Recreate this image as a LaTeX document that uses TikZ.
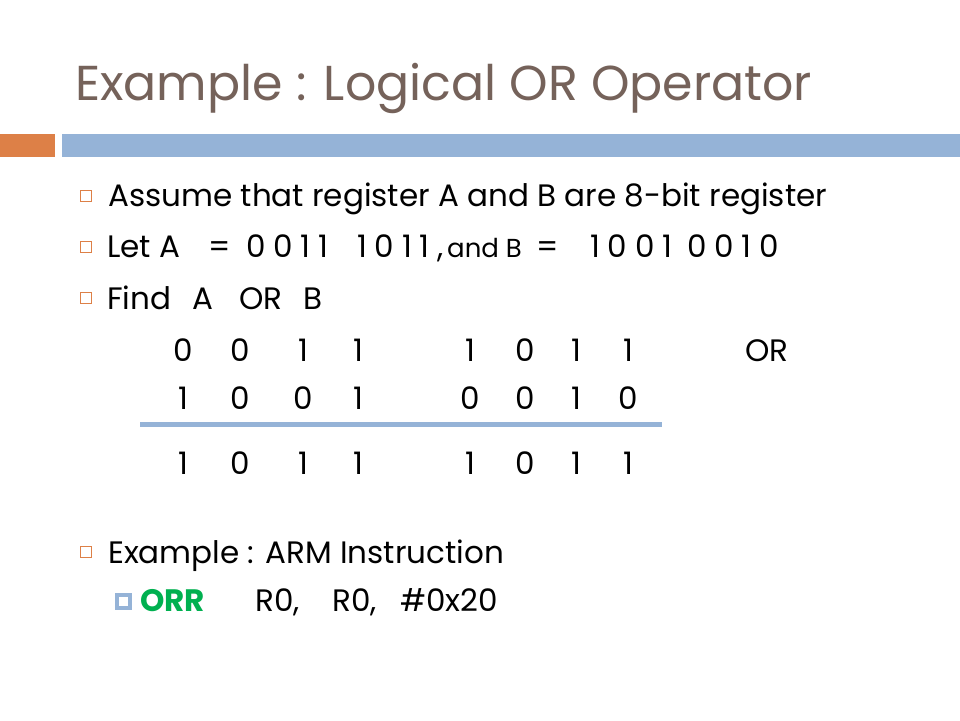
\documentclass[tikz,border=0pt]{standalone}
\usepackage{fontspec}
\setmainfont{Poppins}
\newfontfamily\widedigits[LetterSpace=25]{Poppins}
\usetikzlibrary{positioning}
\definecolor{titlebrown}{RGB}{117,98,90}
\definecolor{barorange}{RGB}{221,128,71}
\definecolor{barblue}{RGB}{149,179,215}
\definecolor{orrgreen}{RGB}{0,176,80}
\tikzset{
    title/.style = {anchor = base west, inner sep = 0, text = titlebrown,
        font = \fontsize{49}{60}\selectfont},
    body/.style = {anchor = base west, inner sep = 0,
        font = \fontsize{31}{38}\selectfont},
    small/.style = {anchor = base west, inner sep = 0,
        font = \fontsize{26}{32}\selectfont},
    digits/.style = {anchor = base west, inner sep = 0,
        font = \fontsize{31}{38}\widedigits},
    bit/.style = {anchor = base, inner sep = 0,
        font = \fontsize{31}{38}\selectfont},
    bulletbox/.style = {draw = barorange, line width = 1.2pt,
        minimum size = 11pt, inner sep = 0},
    subbox/.style = {draw = barblue, line width = 4pt, fill = white,
        minimum size = 13pt, inner sep = 0}
}

\begin{document}
\begin{tikzpicture}[x = 1pt, y = -1pt]
    \useasboundingbox[fill = white] (0,0) rectangle (960,720);

    % title and bars
    \node[title] (title) at (75,100) {Example : Logical OR Operator};
    \fill[barorange] (0,134) rectangle (55,157);
    \fill[barblue] (62,134) rectangle (960,157);

    % bullets
    \node[bulletbox] (b1) at (86,196) {};
    \node[bulletbox] (b2) at (86,247) {};
    \node[bulletbox] (b3) at (86,298) {};
    \node[bulletbox] (b4) at (86,552) {};
    \node[subbox] (b5) at (123,601) {};

    \node[body] (assume) at (108,206) {Assume that register A and B are 8-bit register};
    \node[body] (leta) at (107,257) {Let A};
    \node[body] (eqa) at (208,257) {=};
    \node[digits] (aval1) at (246,257) {0011};
    \node[digits] (aval2) at (357,257) {1011,};
    \node[small] (andb) at (447,257) {and B};
    \node[body] (eqb) at (536,257) {=};
    \node[digits] (bval1) at (590,257) {1001};
    \node[digits] (bval2) at (687,257) {0010};
    \node[body] (find) at (107,309) {Find};
    \node[body] (finda) at (192,309) {A};
    \node[body] (findor) at (239,309) {OR};
    \node[body] (findb) at (303,309) {B};

    % bit rows
    \foreach \x/\a/\b/\c [count=\i] in {183/0/1/1, 240/0/0/0, 303/1/0/1, 358/1/1/1,
                                        470/1/0/1, 525/0/0/0, 576/1/1/1, 628/1/0/1} {
        \node[bit] (a\i) at (\x,361) {\a};
        \node[bit] (b\i) at (\x,409) {\b};
        \node[bit] (c\i) at (\x,474) {\c};
    }
    \node[body] (or) at (745,361) {OR};
    \coordinate (rulel) at (140,424);
    \coordinate (ruler) at (662,424);
    \draw[barblue, line width = 5pt] (rulel) -- (ruler);

    % arm example
    \node[body] (arm) at (108,563) {Example : ARM Instruction};
    \node[body, text = orrgreen, font = \fontsize{31}{38}\selectfont\bfseries] (orr) at (140,611) {ORR};
    \node[body] (r0a) at (255,611) {R0,};
    \node[body] (r0b) at (332,611) {R0,};
    \node[body] (imm) at (400,611) {\#0x20};

\end{tikzpicture}
\end{document}
